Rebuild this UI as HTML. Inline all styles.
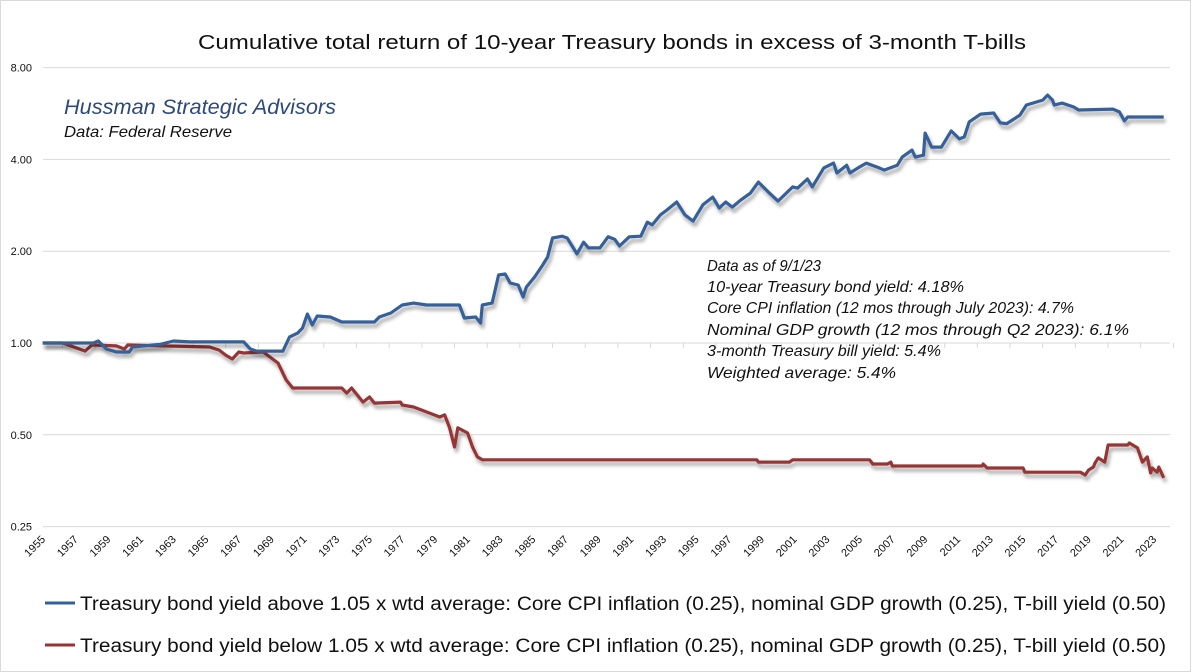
<!DOCTYPE html>
<html><head><meta charset="utf-8"><style>
html,body{margin:0;padding:0;background:#fff;}
svg{display:block;font-family:"Liberation Sans",sans-serif;}
</style></head><body>
<svg id="chart" width="1195" height="672" viewBox="0 0 1195 672">
<defs>
<filter id="shadow" x="-5%" y="-5%" width="110%" height="120%">
<feDropShadow dx="2" dy="4" stdDeviation="1.8" flood-color="#000" flood-opacity="0.35"/>
</filter>
</defs>
<rect x="0.5" y="0.5" width="1190" height="671" fill="#fff" stroke="#d9d9d9"/>
<text x="612" y="49" text-anchor="middle" font-size="20" fill="#111" textLength="828" lengthAdjust="spacingAndGlyphs">Cumulative total return of 10-year Treasury bonds in excess of 3-month T-bills</text>
<g id="grid"></g>
<g id="yticks"></g>
<g id="xticks"></g>
<g id="series"></g>
<text x="64" y="114" font-size="21" font-style="italic" fill="#2e4a7a" textLength="272" lengthAdjust="spacingAndGlyphs">Hussman Strategic Advisors</text>
<text x="64" y="137" font-size="16" font-style="italic" fill="#111" textLength="168" lengthAdjust="spacingAndGlyphs">Data: Federal Reserve</text>
<g font-size="16" font-style="italic" fill="#111">
<text x="707" y="271" textLength="114" lengthAdjust="spacingAndGlyphs">Data as of 9/1/23</text>
<text x="707" y="292" textLength="257" lengthAdjust="spacingAndGlyphs">10-year Treasury bond yield: 4.18%</text>
<text x="707" y="313" textLength="367" lengthAdjust="spacingAndGlyphs">Core CPI inflation (12 mos through July 2023): 4.7%</text>
<text x="707" y="335" textLength="422" lengthAdjust="spacingAndGlyphs">Nominal GDP growth (12 mos through Q2 2023): 6.1%</text>
<text x="707" y="356" textLength="234" lengthAdjust="spacingAndGlyphs">3-month Treasury bill yield: 5.4%</text>
<text x="707" y="378" textLength="189" lengthAdjust="spacingAndGlyphs">Weighted average: 5.4%</text>
</g>
<g>
<g>
<line x1="45" y1="603" x2="75" y2="603" stroke="#34609a" stroke-width="3"/>
<text x="80" y="610" font-size="19" fill="#111" textLength="1086" lengthAdjust="spacingAndGlyphs">Treasury bond yield above 1.05 x wtd average: Core CPI inflation (0.25), nominal GDP growth (0.25), T-bill yield (0.50)</text>
</g>
<g>
<line x1="45" y1="645" x2="75" y2="645" stroke="#963634" stroke-width="3"/>
<text x="80" y="652" font-size="19" fill="#111" textLength="1086" lengthAdjust="spacingAndGlyphs">Treasury bond yield below 1.05 x wtd average: Core CPI inflation (0.25), nominal GDP growth (0.25), T-bill yield (0.50)</text>
</g>
</g>
</svg>
<script>
const yTicks = [0.25, 0.5, 1, 2, 4, 8];
const yTickLabels = ["0.25", "0.50", "1.00", "2.00", "4.00", "8.00"];
const xTickYears = [1955,1957,1959,1961,1963,1965,1967,1969,1971,1973,1975,1977,1979,1981,1983,1985,1987,1989,1991,1993,1995,1997,1999,2001,2003,2005,2007,2009,2011,2013,2015,2017,2019,2021,2023];
const blueYears = [1954.8,1957.9,1958.2,1958.7,1959.3,1960.1,1960.3,1962.0,1962.8,1963.8,1967.1,1967.5,1967.9,1969.5,1969.9,1970.4,1970.7,1971.0,1971.3,1971.6,1972.4,1973.1,1975.1,1975.4,1976.1,1976.8,1977.5,1978.3,1980.3,1980.6,1981.3,1981.6,1981.7,1982.3,1982.7,1983.1,1983.4,1983.9,1984.2,1984.4,1984.9,1985.4,1985.7,1986.0,1986.6,1986.9,1987.5,1987.9,1988.2,1988.9,1989.4,1989.8,1990.1,1990.7,1991.4,1991.8,1992.1,1992.6,1993.0,1993.6,1994.1,1994.6,1995.2,1995.8,1996.2,1996.6,1997.0,1997.5,1998.1,1998.6,1999.2,1999.8,2000.7,2001.0,2001.6,2001.9,2002.6,2003.2,2003.4,2004.0,2004.2,2004.8,2005.2,2006.0,2006.3,2007.1,2007.4,2008.0,2008.2,2008.7,2008.8,2009.2,2009.8,2010.4,2010.9,2011.2,2011.5,2012.2,2013.0,2013.4,2013.8,2014.6,2015.0,2016.0,2016.3,2016.6,2016.7,2017.2,2017.9,2018.2,2020.3,2020.7,2021.0,2021.2,2023.4];
const blueValues = [1.00,1.00,1.015,0.956,0.934,0.934,0.970,0.99,1.015,1.008,1.008,0.956,0.941,0.941,1.046,1.078,1.12,1.245,1.146,1.226,1.217,1.172,1.172,1.217,1.254,1.332,1.352,1.332,1.332,1.208,1.217,1.163,1.332,1.352,1.671,1.684,1.573,1.549,1.415,1.526,1.646,1.802,1.914,2.21,2.24,2.21,1.96,2.14,2.05,2.05,2.23,2.19,2.08,2.23,2.24,2.49,2.44,2.63,2.73,2.90,2.63,2.51,2.84,3.01,2.77,2.90,2.79,2.94,3.10,3.37,3.13,2.92,3.25,3.22,3.45,3.25,3.75,3.89,3.61,3.83,3.61,3.78,3.89,3.75,3.69,3.83,4.07,4.29,4.07,4.13,4.88,4.39,4.39,4.96,4.67,4.74,5.31,5.63,5.68,5.27,5.24,5.59,6.03,6.26,6.50,6.26,6.03,6.12,5.94,5.81,5.85,5.72,5.35,5.51,5.51];
const redYears = [1954.8,1956.0,1956.7,1957.4,1957.8,1959.3,1959.8,1960.0,1965.0,1965.6,1966.0,1966.4,1966.8,1967.1,1968.3,1968.7,1969.2,1969.7,1970.1,1973.1,1973.4,1973.7,1974.4,1974.8,1975.1,1976.7,1976.8,1977.5,1978.3,1979.1,1979.4,1979.7,1980.0,1980.2,1980.8,1981.1,1981.4,1981.7,1998.5,1998.6,2000.5,2000.7,2005.4,2005.6,2006.5,2006.7,2006.8,2012.3,2012.35,2012.6,2014.8,2014.9,2018.3,2018.6,2018.8,2019.1,2019.2,2019.4,2019.8,2020.0,2021.2,2021.3,2021.8,2022.1,2022.4,2022.6,2022.7,2023.0,2023.1,2023.4];
const redValues = [1.0,1.0,0.970,0.941,0.985,0.978,0.956,0.985,0.970,0.948,0.913,0.886,0.934,0.927,0.934,0.900,0.860,0.756,0.712,0.712,0.685,0.712,0.640,0.665,0.635,0.640,0.626,0.617,0.594,0.572,0.581,0.527,0.456,0.527,0.507,0.456,0.423,0.414,0.414,0.407,0.407,0.414,0.414,0.401,0.401,0.407,0.395,0.395,0.401,0.389,0.389,0.377,0.377,0.369,0.383,0.392,0.404,0.420,0.407,0.463,0.463,0.470,0.453,0.407,0.423,0.375,0.389,0.377,0.392,0.361];

const NS = "http://www.w3.org/2000/svg";
const plotLeft = 43, plotRight = 1170;
function xScale(yr){ return 46 + (yr - 1955) * 16.34; }
function yScale(v){ return 343 - 91.8 * Math.log2(v); }
function mk(tag, attrs, parent){ const e = document.createElementNS(NS, tag); for (const k in attrs) e.setAttribute(k, attrs[k]); parent.appendChild(e); return e; }

const grid = document.getElementById('grid');
const yt = document.getElementById('yticks');
yTicks.forEach((v, i) => {
  const y = yScale(v);
  const gl = mk('line', {x1: plotLeft, x2: plotRight, y1: y, y2: y, stroke: '#d9d9d9', 'stroke-width': 1}, grid);
  
  
  const t = mk('text', {x: 32, y: y + 4, 'text-anchor': 'end', 'font-size': 11, fill: '#111'}, yt);
  t.textContent = yTickLabels[i];
  
  
});
const xt = document.getElementById('xticks');
const y1 = yScale(1);
xTickYears.forEach(yr => {
  const x = xScale(yr);
  const tk = mk('line', {x1: x + 16.34, x2: x + 16.34, y1: y1, y2: y1 + 5, stroke: '#d9d9d9'}, xt);
  
  
  const t = mk('text', {x: x, y: 540, 'text-anchor': 'end', 'font-size': 11, fill: '#111', transform: `rotate(-45 ${x} 540)`}, xt);
  t.textContent = yr;
  
  
});
const ser = document.getElementById('series');
function drawLine(years, vals, color, name){
  const d = years.map((yr, i) => (i ? 'L' : 'M') + xScale(yr).toFixed(1) + ',' + yScale(vals[i]).toFixed(1)).join(' ');
  const p = mk('path', {d: d, fill: 'none', stroke: color, 'stroke-width': 3.2, 'stroke-linejoin': 'round', filter: 'url(#shadow)'}, ser);
  
  
}
drawLine(redYears, redValues, '#963634', 'line-yield-below');
drawLine(blueYears, blueValues, '#34609a', 'line-yield-above');
</script>
</body></html>
